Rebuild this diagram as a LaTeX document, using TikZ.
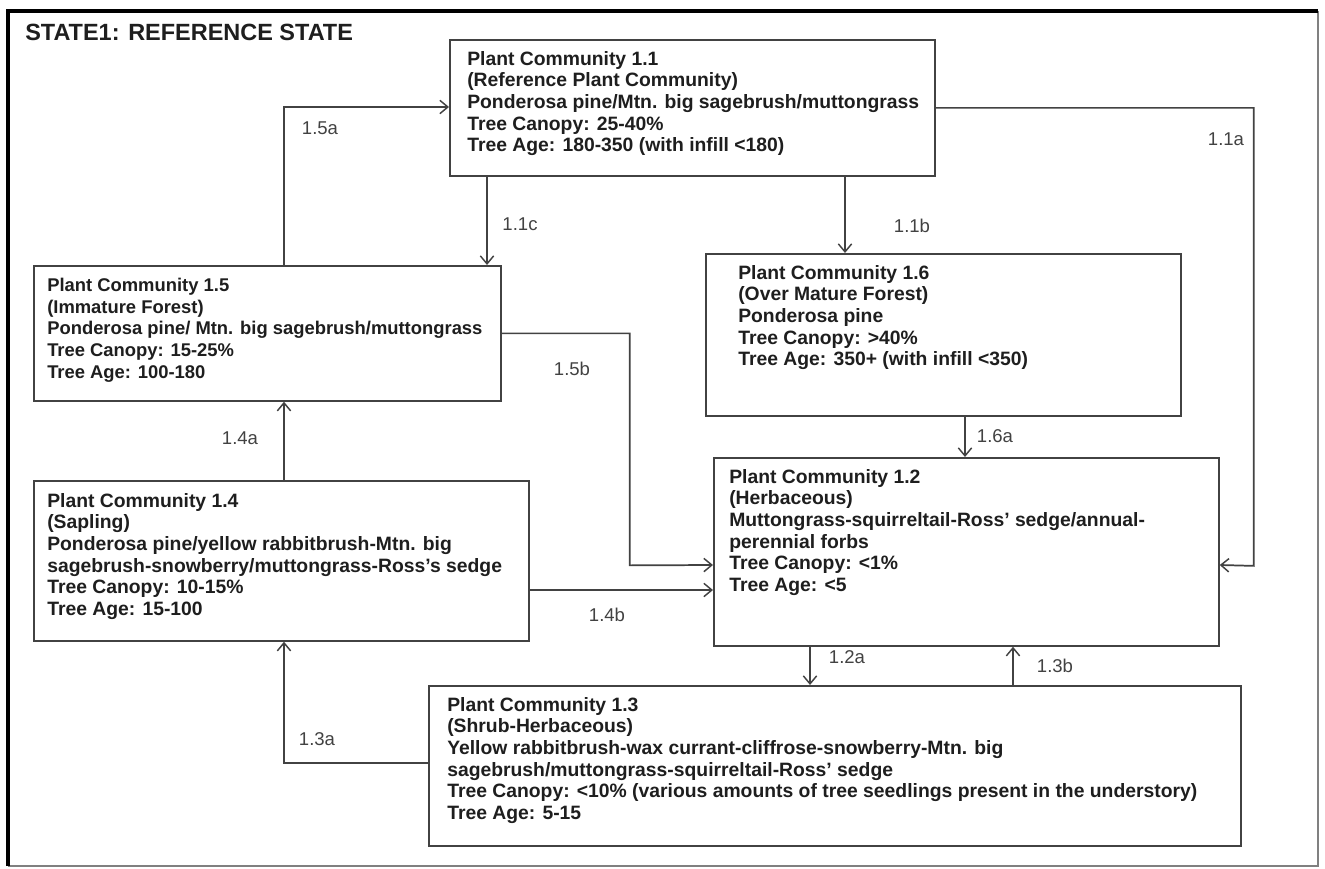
\documentclass[tikz,border=0pt]{standalone}
\usepackage{fontspec}
\setmainfont{Liberation Sans}
\usetikzlibrary{calc,arrows.meta}
\definecolor{linegray}{HTML}{424242}
\definecolor{textgray}{HTML}{1E1E1E}
\begin{document}
\begin{tikzpicture}[x=0.75pt, y=-0.75pt,
	wh/.style 2 args={minimum width=#1*0.75pt, minimum height=#2*0.75pt},
	pcbox/.style={draw=linegray, line width=1.3pt, inner sep=0pt, anchor=north west},
	pctext/.style={anchor=north west, inner sep=0pt, align=left, text=textgray,
		font=\bfseries\fontsize{14.5}{16.2}\selectfont},
	steplabel/.style={font=\fontsize{13.9}{15}\selectfont, text=linegray},
	link/.style={draw=linegray, line width=1.3pt,
		-{Straight Barb[length=6pt, width=10pt, line width=1.1pt]}}]
\useasboundingbox (0,0) rectangle (1325,868);
\fill[white] (0,0) rectangle (1325,868);
% frame
\draw[gray, line width=1.3pt] (1318,11) -- (1318,866) -- (8,866);
\draw[black, line width=3pt] (8,866) -- (8,11) -- (1318,11);
\node[anchor=base west, inner sep=0pt, text=textgray,
	font=\bfseries\fontsize{17.6}{19}\selectfont] (title) at (25,40)
	{STATE1: REFERENCE STATE};
% boxes
\node[pcbox, wh={485}{136}] (pc11) at (449,39) {};
\node[pcbox, wh={467}{135}] (pc15) at (33,265) {};
\node[pcbox, wh={475}{162}] (pc16) at (705,253) {};
\node[pcbox, wh={505}{188}] (pc12) at (713,457) {};
\node[pcbox, wh={495}{160}] (pc14) at (33,480) {};
\node[pcbox, wh={812}{160}] (pc13) at (428,685) {};
% texts
\node[pctext] (t11) at ($(pc11.north west)+(18,12)$)
	{Plant Community 1.1\\(Reference Plant Community)\\
	Ponderosa pine/Mtn. big sagebrush/muttongrass\\Tree Canopy: 25-40\%\\
	Tree Age: 180-350 (with infill <180)};
\node[pctext, font=\bfseries\fontsize{13.8}{16.2}\selectfont] (t15)
	at ($(pc15.north west)+(14,13)$)
	{Plant Community 1.5\\(Immature Forest)\\
	Ponderosa pine/ Mtn. big sagebrush/muttongrass\\Tree Canopy: 15-25\%\\
	Tree Age: 100-180};
\node[pctext] (t16) at ($(pc16.north west)+(33,12)$)
	{Plant Community 1.6\\(Over Mature Forest)\\Ponderosa pine\\
	Tree Canopy: >40\%\\Tree Age: 350+ (with infill <350)};
\node[pctext] (t12) at ($(pc12.north west)+(16,12)$)
	{Plant Community 1.2\\(Herbaceous)\\
	Muttongrass-squirreltail-Ross' sedge/annual-\\perennial forbs\\
	Tree Canopy: <1\%\\Tree Age: <5};
\node[pctext] (t14) at ($(pc14.north west)+(14,13)$)
	{Plant Community 1.4\\(Sapling)\\
	Ponderosa pine/yellow rabbitbrush-Mtn. big\\
	sagebrush-snowberry/muttongrass-Ross's sedge\\
	Tree Canopy: 10-15\%\\Tree Age: 15-100};
\node[pctext] (t13) at ($(pc13.north west)+(19,12)$)
	{Plant Community 1.3\\(Shrub-Herbaceous)\\
	Yellow rabbitbrush-wax currant-cliffrose-snowberry-Mtn. big\\
	sagebrush/muttongrass-squirreltail-Ross' sedge\\
	Tree Canopy: <10\% (various amounts of tree seedlings present in the understory)\\
	Tree Age: 5-15};
% transitions
\coordinate (c15a) at ($(pc15.north west)+(251,0)$);
\coordinate (c11c) at ($(pc11.south west)+(38,0)$);
\coordinate (c11b) at ($(pc11.south west)+(396,0)$);
\coordinate (c16a) at ($(pc16.south west)+(260,0)$);
\coordinate (c14a) at ($(pc14.north west)+(251,0)$);
\coordinate (c12a) at ($(pc12.south west)+(97,0)$);
\coordinate (c13b) at ($(pc13.north west)+(585,0)$);
\draw[link] (c15a) |- ($(pc11.north west)+(0,68)$);
\draw[link] (c11c) -- (c11c |- pc15.north);
\draw[link] (c11b) -- (c11b |- pc16.north);
\draw[link] (pc11.east) -| ++(318,458) -- ($(pc12.north east)+(0,108)$);
\draw[link] (pc15.east) -| ++(128,232) -- ($(pc12.north west)+(0,108)$);
\draw[link] (c16a) -- (c16a |- pc12.north);
\draw[link] (c14a) -- (c14a |- pc15.south);
\draw[link] ($(pc14.north east)+(0,110)$) -- ($(pc12.north west)+(0,133)$);
\draw[link] (c12a) -- (c12a |- pc13.north);
\draw[link] (c13b) -- (c13b |- pc12.south);
\draw[link] ($(pc13.north west)+(0,78)$) -| ($(pc14.south west)+(251,0)$);
% labels
\node[steplabel] (l15a) at (320,128) {1.5a};
\node[steplabel] (l11c) at (520,224) {1.1c};
\node[steplabel] (l11b) at (912,226) {1.1b};
\node[steplabel] (l11a) at (1226,139) {1.1a};
\node[steplabel] (l15b) at (572,369) {1.5b};
\node[steplabel] (l16a) at (995,436) {1.6a};
\node[steplabel] (l14a) at (240,438) {1.4a};
\node[steplabel] (l14b) at (607,615) {1.4b};
\node[steplabel] (l12a) at (847,657) {1.2a};
\node[steplabel] (l13b) at (1055,666) {1.3b};
\node[steplabel] (l13a) at (317,739) {1.3a};
\end{tikzpicture}
\end{document}
